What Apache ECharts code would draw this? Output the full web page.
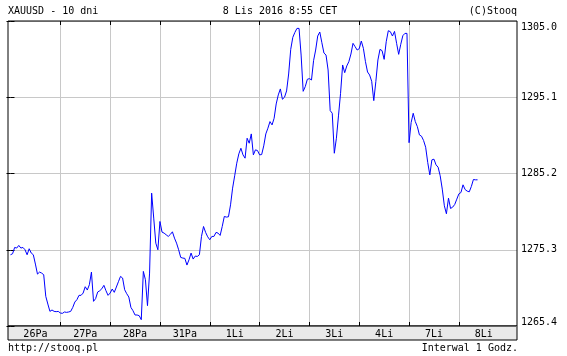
<!DOCTYPE html>
<html>
<head>
<meta charset="utf-8">
<script src="https://cdn.jsdelivr.net/npm/echarts@6/dist/echarts.min.js"></script>
<style>
html,body{margin:0;padding:0;background:#fff;}
#chart{width:567px;height:356px;}
</style>
</head>
<body>
<div id="chart"></div>
<script>
// ---- data (hourly closes, XAUUSD) ----
const dayLabels = ['26Pa','27Pa','28Pa','31Pa','1Li','2Li','3Li','4Li','7Li','8Li'];
const hoursPerDay = 24;
const yTicks = [1265.4, 1275.3, 1285.2, 1295.1, 1305.0];
const prices = [
1274.65,1274.78,1275.60,1275.52,1275.86,1275.52,1275.60,1275.30,1274.65,1275.43,
1274.87,1274.65,1273.44,1272.14,1272.40,1272.27,1272.06,1269.25,1268.25,1267.30,
1267.48,1267.30,1267.26,1267.30,1267.09,1267.04,1267.22,1267.17,1267.22,1267.30,
1267.82,1268.51,1268.82,1269.38,1269.38,1269.68,1270.50,1270.07,1270.76,1272.40,
1268.60,1268.95,1269.81,1269.98,1270.24,1270.68,1269.98,1269.38,1269.68,1270.20,
1269.77,1270.46,1271.15,1271.84,1271.63,1270.11,1269.59,1269.16,1267.82,1267.39,
1266.83,1266.83,1266.74,1266.22,1272.49,1271.41,1268.04,1272.27,1282.65,1279.41,
1276.16,1275.30,1278.97,1277.59,1277.46,1277.24,1277.03,1277.29,1277.63,1276.81,
1276.16,1275.30,1274.31,1274.22,1274.18,1273.31,1274.00,1274.87,1274.09,1274.48,
1274.43,1274.65,1277.03,1278.32,1277.55,1276.98,1276.60,1277.03,1277.03,1277.55,
1277.46,1277.16,1278.32,1279.62,1279.54,1279.58,1281.13,1283.30,1284.90,1286.54,
1287.75,1288.48,1287.62,1287.19,1289.78,1289.13,1290.34,1287.62,1288.27,1288.18,
1287.62,1287.66,1288.79,1290.34,1291.08,1291.94,1291.51,1292.37,1294.23,1295.40,
1296.18,1294.84,1295.10,1295.92,1298.12,1301.32,1302.88,1303.52,1304.04,1304.04,
1300.58,1295.87,1296.48,1297.43,1297.52,1297.34,1299.85,1301.23,1303.05,1303.57,
1302.18,1300.84,1300.58,1298.64,1293.37,1293.02,1287.83,1289.78,1292.68,1295.61,
1299.29,1298.29,1299.16,1299.72,1300.71,1302.10,1301.67,1301.23,1301.41,1302.40,
1301.45,1299.72,1298.38,1297.99,1297.17,1294.66,1297.13,1299.94,1301.32,1301.15,
1300.02,1302.31,1303.74,1303.61,1303.05,1303.65,1302.10,1300.67,1301.97,1303.09,
1303.39,1303.39,1289.20,1291.81,1293.02,1291.94,1291.29,1290.21,1290.04,1289.48,
1288.61,1286.62,1285.02,1286.97,1287.06,1286.32,1286.02,1284.90,1283.17,1281.01,
1279.97,1282.00,1280.66,1280.83,1281.18,1281.87,1282.56,1282.73,1283.73,1283.12,
1282.91,1282.82,1283.51,1284.42,1284.38,1284.38
];

// ---- derived ----
const dayBounds = dayLabels.slice(1).map((_, i) => (i + 1) * hoursPerDay);
const dayCenters = dayLabels.map((_, i) => i * hoursPerDay + hoursPerDay / 2);
const seriesData = prices.map((p, i) => [i, p]);
const X_MIN = -1.2, X_MAX = 244;
const FONT = '"DejaVu Sans Mono", "Liberation Mono", monospace';

const chart = echarts.init(document.getElementById('chart'), null, {renderer: 'canvas'});
const option = {
  animation: false,
  backgroundColor: '#fff',
  textStyle: {fontFamily: FONT, fontSize: 10, color: '#000'},
  grid: [
    {left: 8, top: 21, width: 509, height: 305, show: true, borderColor: '#000', borderWidth: 1, backgroundColor: 'transparent', z: 3},
    {left: 8, top: 326, width: 509, height: 14, show: true, borderColor: '#000', borderWidth: 1, backgroundColor: '#e9e9e9'}
  ],
  xAxis: [
    {
      gridIndex: 0, type: 'value', position: 'bottom', min: X_MIN, max: X_MAX,
      axisLine: {show: false},
      axisTick: {show: true, inside: true, length: 4, customValues: dayBounds, lineStyle: {color: '#000', width: 1}},
      axisLabel: {show: false},
      splitLine: {show: true, lineStyle: {color: '#c8c8c8', width: 1}}
    },
    {
      gridIndex: 0, type: 'value', position: 'top', min: X_MIN, max: X_MAX,
      axisLine: {show: false},
      axisTick: {show: true, inside: true, length: 4, customValues: dayBounds, lineStyle: {color: '#000', width: 1}},
      axisLabel: {show: false},
      splitLine: {show: false}
    },
    {
      gridIndex: 1, type: 'value', position: 'top', min: X_MIN, max: X_MAX,
      axisLine: {show: false},
      axisTick: {show: false},
      splitLine: {show: false},
      axisLabel: {
        show: true, inside: true, margin: 3, customValues: dayCenters,
        fontFamily: FONT, fontSize: 10, color: '#000',
        formatter: v => dayLabels[Math.round((v - hoursPerDay / 2) / hoursPerDay)]
      }
    }
  ],
  yAxis: [
    {
      gridIndex: 0, type: 'value', position: 'right', min: yTicks[0], max: yTicks[yTicks.length - 1], interval: 9.9,
      axisLine: {show: false},
      axisTick: {show: true, inside: true, length: 4, lineStyle: {color: '#000'}},
      splitLine: {show: true, lineStyle: {color: '#c8c8c8', width: 1}},
      axisLabel: {
        show: true, margin: 4, fontFamily: FONT, fontSize: 10, color: '#000', lineHeight: 12,
        formatter: function (v) {
          const s = Number(v).toFixed(1);
          if (Math.abs(v - yTicks[yTicks.length - 1]) < 1e-6) return '{h| }\n' + s;
          if (Math.abs(v - yTicks[0]) < 1e-6) return s + '\n{l| }';
          return s;
        },
        rich: {h: {lineHeight: 12, fontSize: 10}, l: {lineHeight: 7, fontSize: 6}}
      }
    },
    {
      gridIndex: 0, type: 'value', position: 'left', min: yTicks[0], max: yTicks[yTicks.length - 1], interval: 9.9,
      axisLine: {show: false},
      axisTick: {show: true, inside: true, length: 4, lineStyle: {color: '#000'}},
      splitLine: {show: false},
      axisLabel: {show: false}
    },
    {gridIndex: 1, type: 'value', min: 0, max: 1, show: false}
  ],
  series: [{
    type: 'line', xAxisIndex: 0, yAxisIndex: 0,
    data: seriesData, showSymbol: false, symbol: 'none', z: 5,
    lineStyle: {color: '#0000ff', width: 1}
  }],
  graphic: [
    {type: 'text', x: 8, y: 11, style: {text: 'XAUUSD - 10 dni', font: '10px ' + FONT, fill: '#000', align: 'left', verticalAlign: 'middle'}},
    {type: 'text', x: 280, y: 11, style: {text: '8 Lis 2016 8:55 CET', font: '10px ' + FONT, fill: '#000', align: 'center', verticalAlign: 'middle'}},
    {type: 'text', x: 517, y: 11, style: {text: '(C)Stooq', font: '10px ' + FONT, fill: '#000', align: 'right', verticalAlign: 'middle'}},
    {type: 'text', x: 8, y: 348, style: {text: 'http://stooq.pl', font: '10px ' + FONT, fill: '#000', align: 'left', verticalAlign: 'middle'}},
    {type: 'text', x: 518, y: 348, style: {text: 'Interwal 1 Godz.', font: '10px ' + FONT, fill: '#000', align: 'right', verticalAlign: 'middle'}}
  ]
};
chart.setOption(option);
</script>
</body>
</html>
